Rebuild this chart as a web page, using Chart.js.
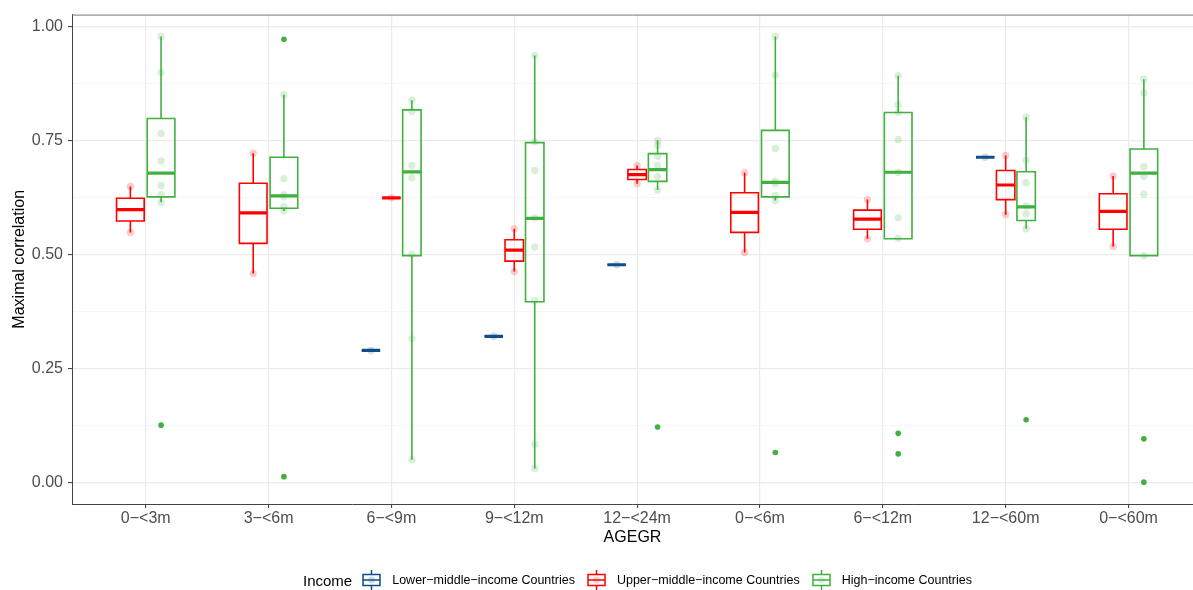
<!DOCTYPE html>
<html>
<head>
<meta charset="utf-8">
<script src="https://cdn.jsdelivr.net/npm/chart.js@4.4.0/dist/chart.umd.min.js"></script>
<style>
  html, body { margin: 0; padding: 0; background: #ffffff; overflow: hidden; }
  #wrap { position: relative; width: 1193px; height: 590px; overflow: hidden; font-family: "Liberation Sans", Arial, sans-serif; }
  #chart { position: absolute; left: 0; top: 0; }
  #legend { position: absolute; left: 303px; top: 570px; height: 20px; display: flex; align-items: center; white-space: nowrap; color: #000; }
  #legend .title { font-size: 15px; margin-right: 10px; }
  #legend .key { width: 19px; height: 20px; margin-right: 11px; }
  #legend .lab { font-size: 12.5px; margin-right: 12px; }
</style>
</head>
<body>
<div id="wrap">
  <canvas id="chart" width="1193" height="590"></canvas>
  <div id="legend"></div>
</div>
<script>
// Age groups on the x axis
const categories = ["0\u2212<3m", "3\u2212<6m", "6\u2212<9m", "9\u2212<12m", "12\u2212<24m", "0\u2212<6m", "6\u2212<12m", "12\u2212<60m", "0\u2212<60m"];
const incomeGroups = ["Lower\u2212middle\u2212income Countries", "Upper\u2212middle\u2212income Countries", "High\u2212income Countries"];
const yTickLabels = ["0.00", "0.25", "0.50", "0.75", "1.00"];

// Box summaries per age group: [lower whisker, Q1, median, Q3, upper whisker]
const lowerMiddleBoxes = [
  null, null,
  [0.289, 0.289, 0.289, 0.289, 0.289],
  [0.320, 0.320, 0.320, 0.320, 0.320],
  [0.477, 0.477, 0.477, 0.477, 0.477],
  null, null,
  [0.713, 0.713, 0.713, 0.713, 0.713],
  null
];
const upperMiddleBoxes = [
  [0.548, 0.573, 0.598, 0.623, 0.649],
  [0.458, 0.524, 0.591, 0.656, 0.722],
  [0.624, 0.624, 0.624, 0.624, 0.624],
  [0.462, 0.485, 0.509, 0.532, 0.556],
  [0.655, 0.664, 0.675, 0.686, 0.695],
  [0.504, 0.548, 0.592, 0.635, 0.679],
  [0.534, 0.555, 0.577, 0.597, 0.620],
  [0.587, 0.620, 0.652, 0.684, 0.717],
  [0.517, 0.555, 0.594, 0.633, 0.672]
];
const highBoxes = [
  [0.614, 0.626, 0.678, 0.798, 0.978],
  [0.595, 0.601, 0.628, 0.713, 0.850],
  [0.049, 0.497, 0.681, 0.817, 0.838],
  [0.030, 0.396, 0.579, 0.745, 0.936],
  [0.641, 0.660, 0.686, 0.721, 0.750],
  [0.618, 0.626, 0.658, 0.772, 0.978],
  [0.534, 0.534, 0.680, 0.811, 0.892],
  [0.556, 0.574, 0.604, 0.681, 0.801],
  [0.497, 0.497, 0.678, 0.731, 0.884]
];

// Individual country correlations
const lowerMiddlePoints = [[], [], [0.289], [0.320], [0.477], [], [], [0.713], []];
const upperMiddlePoints = [
  [0.548, 0.649], [0.458, 0.722], [0.624], [0.462, 0.556], [0.655, 0.695],
  [0.504, 0.679], [0.534, 0.620], [0.587, 0.717], [0.517, 0.672]
];
const highPoints = [
  [0.614, 0.631, 0.651, 0.705, 0.765, 0.899, 0.978],
  [0.595, 0.605, 0.626, 0.631, 0.666, 0.850],
  [0.049, 0.315, 0.500, 0.668, 0.695, 0.814, 0.838],
  [0.030, 0.083, 0.398, 0.516, 0.580, 0.684, 0.747, 0.936],
  [0.641, 0.670, 0.695, 0.715, 0.739, 0.750],
  [0.618, 0.629, 0.655, 0.661, 0.732, 0.893, 0.978],
  [0.535, 0.580, 0.680, 0.752, 0.811, 0.828, 0.892],
  [0.556, 0.589, 0.606, 0.657, 0.706, 0.801],
  [0.497, 0.632, 0.671, 0.692, 0.854, 0.884]
];

// Values beyond 1.5 IQR
const lowerMiddleOutliers = [[], [], [], [], [], [], [], [], []];
const upperMiddleOutliers = [[], [], [], [], [], [], [], [], []];
const highOutliers = [[0.125], [0.972, 0.012], [], [], [0.121], [0.065], [0.107, 0.062], [0.137], [0.095, 0.000]];

const groups = [
  { label: incomeGroups[0], boxes: lowerMiddleBoxes, points: lowerMiddlePoints, outliers: lowerMiddleOutliers, rgb: [16, 78, 139] },
  { label: incomeGroups[1], boxes: upperMiddleBoxes, points: upperMiddlePoints, outliers: upperMiddleOutliers, rgb: [255, 0, 0] },
  { label: incomeGroups[2], boxes: highBoxes, points: highPoints, outliers: highOutliers, rgb: [64, 176, 64] }
];
const rgba = (c, a) => `rgba(${c[0]},${c[1]},${c[2]},${a})`;

// Side-by-side placement of the boxes within one age group
const DODGE_WIDTH = 0.5;
const DODGE_PAD = 0.1;
function placement(catIdx, groupIdx) {
  const present = groups.map((g, i) => (g.boxes[catIdx] ? i : -1)).filter(i => i >= 0);
  const slot = DODGE_WIDTH / present.length;
  const k = present.indexOf(groupIdx);
  return { center: catIdx - DODGE_WIDTH / 2 + slot * (k + 0.5), half: slot * (1 - DODGE_PAD) / 2 };
}

const datasets = [];
groups.forEach((g, gi) => {
  const outline = [], medians = [], pts = [], outs = [];
  g.boxes.forEach((b, ci) => {
    if (!b) return;
    const { center, half } = placement(ci, gi);
    const [lo, q1, med, q3, hi] = b;
    const l = center - half, r = center + half;
    // box rectangle
    outline.push({ x: l, y: q1 }, { x: r, y: q1 }, { x: r, y: q3 }, { x: l, y: q3 }, { x: l, y: q1 }, { x: r, y: q1 }, { x: r, y: null });
    // whiskers
    outline.push({ x: center, y: q3 }, { x: center, y: hi }, { x: center, y: null });
    outline.push({ x: center, y: q1 }, { x: center, y: lo }, { x: center, y: null });
    medians.push({ x: l, y: med }, { x: r, y: med }, { x: r, y: null });
    g.points[ci].forEach(v => pts.push({ x: center, y: v }));
    g.outliers[ci].forEach(v => outs.push({ x: center, y: v }));
  });
  datasets.push({
    type: 'scatter', data: pts, order: 4,
    pointRadius: 3.7, pointBorderWidth: 0, pointBackgroundColor: rgba(g.rgb, 0.2)
  });
  datasets.push({
    type: 'line', data: outline, order: 3, spanGaps: false, tension: 0,
    borderColor: rgba(g.rgb, 1), borderWidth: 1.6, pointRadius: 0, fill: false
  });
  datasets.push({
    type: 'line', data: medians, order: 2, spanGaps: false, tension: 0,
    borderColor: rgba(g.rgb, 1), borderWidth: 3.2, pointRadius: 0, fill: false
  });
  datasets.push({
    type: 'scatter', data: outs, order: 1,
    pointRadius: 2.8, pointBorderWidth: 0, pointBackgroundColor: rgba(g.rgb, 1)
  });
});

// Panel frame along the top edge
const topFrame = {
  id: 'topFrame',
  afterDraw(chart) {
    const { ctx, chartArea } = chart;
    ctx.save();
    ctx.strokeStyle = '#7a7a7a';
    ctx.lineWidth = 1;
    ctx.beginPath();
    ctx.moveTo(chartArea.left, chartArea.top + 0.5);
    ctx.lineTo(chartArea.right, chartArea.top + 0.5);
    ctx.stroke();
    ctx.restore();
  }
};

const isMajor = v => Math.abs(v * 4 - Math.round(v * 4)) < 1e-9;

Chart.defaults.font.family = '"Liberation Sans", Arial, sans-serif';

new Chart(document.getElementById('chart'), {
  data: { datasets },
  options: {
    responsive: false,
    animation: false,
    devicePixelRatio: 1,
    layout: { autoPadding: false, padding: { top: 14, left: 0, right: 0, bottom: 40 } },
    plugins: { legend: { display: false }, tooltip: { enabled: false } },
    scales: {
      x: {
        type: 'linear', min: -0.6, max: 8.525,
        afterBuildTicks: s => { s.ticks = categories.map((c, i) => ({ value: i })); },
        afterFit: s => { s.height = 46; s.paddingLeft = 0; s.paddingRight = 0; },
        ticks: { callback: v => categories[v], color: '#4D4D4D', font: { size: 16 }, padding: 1, autoSkip: false, maxRotation: 0 },
        grid: { color: '#EBEBEB', lineWidth: 1.2, tickLength: 4, tickColor: '#333333', tickWidth: 1 },
        border: { display: true, color: '#444444', width: 1 },
        title: { display: true, text: 'AGEGR', color: '#000000', font: { size: 16 }, padding: { top: 0, bottom: 3 } }
      },
      y: {
        type: 'linear', min: -0.048, max: 1.026,
        afterBuildTicks: s => { s.ticks = Array.from({ length: 9 }, (_, i) => ({ value: i * 0.125 })); },
        afterFit: s => { s.width = 72; },
        ticks: {
          callback: v => (isMajor(v) ? yTickLabels[Math.round(v * 4)] : ''),
          color: '#4D4D4D', font: { size: 16 }, padding: 5, autoSkip: false
        },
        grid: {
          color: c => (isMajor(c.tick.value) ? '#EBEBEB' : '#F4F4F4'),
          lineWidth: c => (isMajor(c.tick.value) ? 1.2 : 0.8),
          tickLength: 4,
          tickColor: c => (isMajor(c.tick.value) ? '#333333' : 'rgba(0,0,0,0)'),
          tickWidth: 1
        },
        border: { display: true, color: '#444444', width: 1 },
        title: { display: true, text: 'Maximal correlation', color: '#000000', font: { size: 16 }, padding: { top: 10, bottom: 0 } }
      }
    }
  },
  plugins: [topFrame]
});

// Legend with boxplot keys
const legend = document.getElementById('legend');
const title = document.createElement('span');
title.className = 'title';
title.textContent = 'Income';
legend.appendChild(title);
groups.forEach(g => {
  const col = rgba(g.rgb, 1);
  const key = document.createElementNS('http://www.w3.org/2000/svg', 'svg');
  key.setAttribute('class', 'key');
  key.setAttribute('viewBox', '0 0 19 20');
  key.innerHTML =
    `<line x1="9.5" y1="0" x2="9.5" y2="20" stroke="${col}" stroke-width="1.5"/>` +
    `<rect x="1" y="4.5" width="17" height="11" fill="#fff" stroke="${col}" stroke-width="1.5"/>` +
    `<circle cx="9.5" cy="10" r="3.5" fill="${rgba(g.rgb, 0.2)}"/>` +
    `<line x1="1" y1="10" x2="18" y2="10" stroke="${col}" stroke-width="1.5"/>`;
  legend.appendChild(key);
  const lab = document.createElement('span');
  lab.className = 'lab';
  lab.textContent = g.label;
  legend.appendChild(lab);
});
</script>
</body>
</html>
